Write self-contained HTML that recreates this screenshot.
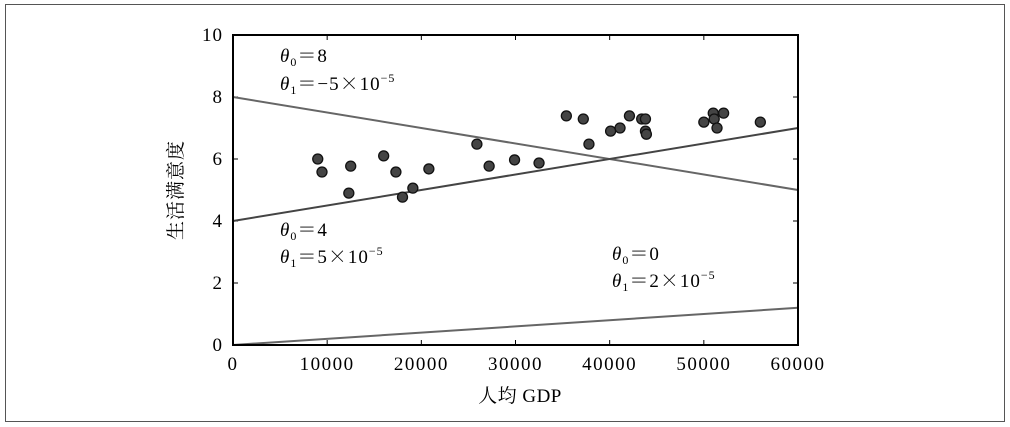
<!DOCTYPE html>
<html><head><meta charset="utf-8"><style>
body{margin:0;background:#fff}
svg{display:block;font-family:"Liberation Serif","Noto Serif CJK SC",serif}
.cj{font-family:"Noto Serif CJK SC",serif}
</style></head><body>
<svg width="1010" height="427" id="c">
<rect x="5.5" y="4.5" width="999" height="417" fill="none" stroke="#555"/>
<g id="plot"></g>
<text x="520" y="402" font-size="19" text-anchor="middle" letter-spacing="0.5">人均 GDP</text>
<text transform="translate(182,190) rotate(-90)" font-size="19" text-anchor="middle" letter-spacing="1">生活满意度</text>
<g font-size="19" letter-spacing="1">
<text x="280" y="62"><tspan font-style="italic">θ</tspan><tspan font-size="12" dy="4">0</tspan><tspan dy="-4" class="cj">＝</tspan><tspan>8</tspan></text>
<text x="280" y="90"><tspan font-style="italic">θ</tspan><tspan font-size="12" dy="4">1</tspan><tspan dy="-4" class="cj">＝</tspan><tspan>−5</tspan><tspan class="cj">×</tspan><tspan>10</tspan><tspan font-size="12" dy="-8">−5</tspan></text>
<text x="280" y="236"><tspan font-style="italic">θ</tspan><tspan font-size="12" dy="4">0</tspan><tspan dy="-4" class="cj">＝</tspan><tspan>4</tspan></text>
<text x="280" y="263"><tspan font-style="italic">θ</tspan><tspan font-size="12" dy="4">1</tspan><tspan dy="-4" class="cj">＝</tspan><tspan>5</tspan><tspan class="cj">×</tspan><tspan>10</tspan><tspan font-size="12" dy="-8">−5</tspan></text>
<text x="612" y="260"><tspan font-style="italic">θ</tspan><tspan font-size="12" dy="4">0</tspan><tspan dy="-4" class="cj">＝</tspan><tspan>0</tspan></text>
<text x="612" y="287"><tspan font-style="italic">θ</tspan><tspan font-size="12" dy="4">1</tspan><tspan dy="-4" class="cj">＝</tspan><tspan>2</tspan><tspan class="cj">×</tspan><tspan>10</tspan><tspan font-size="12" dy="-8">−5</tspan></text>
</g>
</svg>
<script>
const gdp=[9000,9450,12300,12500,16000,17300,18000,19100,20800,25900,27200,29900,32500,35400,37200,37800,40100,41100,42100,43400,43800,43800,43900,50000,51000,51100,51400,52100,56000];
const sat=[6.0,5.58,4.9,5.77,6.1,5.58,4.77,5.06,5.68,6.48,5.77,5.97,5.87,7.39,7.29,6.48,6.9,7.0,7.39,7.29,7.29,6.9,6.8,7.19,7.48,7.29,7.0,7.48,7.19];
const theta0=[8,4,0];
const theta1=[-5e-5,5e-5,2e-5];
const lineNames=['line-theta0-8','line-theta0-4','line-theta0-0'];
const xTicks=[0,10000,20000,30000,40000,50000,60000];
const yTicks=[0,2,4,6,8,10];
const X0=233,X1=798,Y0=345,Y1=35;
const sx=v=>X0+v/60000*(X1-X0), sy=v=>Y0-v/10*(Y0-Y1);
const NS='http://www.w3.org/2000/svg', g=document.getElementById('plot');
function mk(t,a){const e=document.createElementNS(NS,t);for(const k in a)e.setAttribute(k,a[k]);g.appendChild(e);return e;}
xTicks.forEach(v=>{
 const t=mk('line',{x1:sx(v),x2:sx(v),y1:Y0,y2:Y0-5,stroke:'#000'});
 
 
 const t2=mk('line',{x1:sx(v),x2:sx(v),y1:Y1,y2:Y1+5,stroke:'#000'});
 
 
 const l=mk('text',{x:sx(v),y:Y0+25,'font-size':19,'letter-spacing':1.5,'text-anchor':'middle'});l.textContent=v;
 
 
});
yTicks.forEach(v=>{
 const t=mk('line',{x1:X0,x2:X0+5,y1:sy(v),y2:sy(v),stroke:'#000'});
 
 
 const t2=mk('line',{x1:X1,x2:X1-5,y1:sy(v),y2:sy(v),stroke:'#000'});
 
 
 const l=mk('text',{x:X0-10,y:sy(v)+6,'font-size':19,'letter-spacing':1,'text-anchor':'end'});l.textContent=v;
 
 
});
theta0.forEach((a,i)=>{
 const b=theta1[i];
 const ln=mk('line',{x1:sx(0),y1:sy(a),x2:sx(60000),y2:sy(a+b*60000),stroke:i==1?'#444':'#666','stroke-width':2});
 
 
});
gdp.forEach((v,i)=>{
 const c=mk('circle',{cx:sx(v),cy:sy(sat[i]),r:5,fill:'#444',stroke:'#111','stroke-width':1.3});
 
 
});
const fr=mk('rect',{x:X0,y:Y1,width:X1-X0,height:Y0-Y1,fill:'none',stroke:'#000','stroke-width':2});


</script>
</body></html>
